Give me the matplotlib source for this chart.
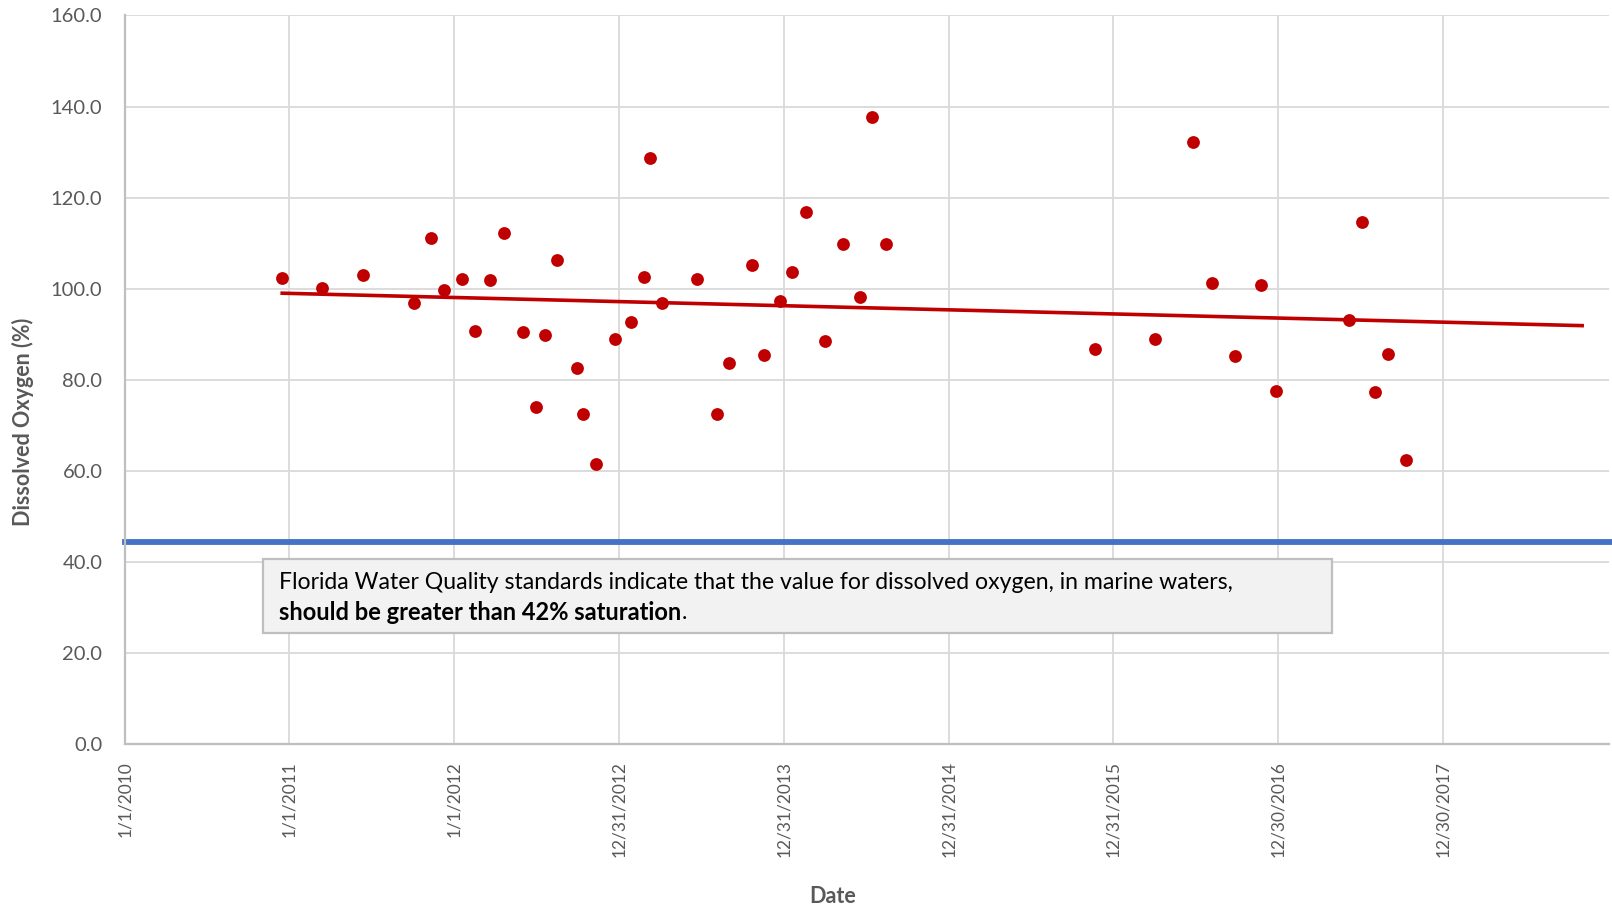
import numpy as np
import pandas as pd
import matplotlib
matplotlib.use("Agg")
import matplotlib.pyplot as plt
import matplotlib.dates as mdates

plt.rcParams['font.family'] = ['Lato', 'DejaVu Sans']

# days after 1/1/2010 for each sample, and dissolved oxygen (%)
day_offsets = [349, 438, 529, 641, 678, 707, 748, 776, 810, 840,
               883, 910, 931, 958, 1001, 1015, 1045, 1086, 1122, 1150,
               1163, 1191, 1268, 1312, 1339, 1389, 1417, 1451, 1478, 1508,
               1551, 1592, 1629, 1656, 1686, 2149, 2281, 2366, 2409, 2459,
               2516, 2550, 2712, 2740, 2769, 2797, 2838]
do_pct = [102.4, 100.1, 103.1, 96.9, 111.2, 99.7, 102.1, 90.8, 101.9, 112.3,
          90.6, 74.1, 89.9, 106.4, 82.5, 72.5, 61.5, 89.0, 92.7, 102.6,
          128.6, 96.9, 102.1, 72.5, 83.8, 105.3, 85.4, 97.4, 103.7, 116.8,
          88.6, 109.8, 98.1, 137.6, 109.8, 86.8, 89.0, 132.2, 101.2, 85.2,
          100.8, 77.5, 93.1, 114.6, 77.3, 85.6, 62.4]
standard_line = 44.5
tick_labels = ['1/1/2010', '1/1/2011', '1/1/2012', '12/31/2012', '12/31/2013',
               '12/31/2014', '12/31/2015', '12/30/2016', '12/30/2017']

start = pd.Timestamp('2010-01-01')
dates = [start + pd.Timedelta(days=d) for d in day_offsets]
xnum = mdates.date2num(dates)
x0 = mdates.date2num(start)

W, H = 1565.0, 884.0  # layout measured on a scaled view of the reference

fig = plt.figure(figsize=(16.12, 9.1), dpi=100)
ax = fig.add_axes([121/W, 1 - 723/H, 1441/W, 708/H])

ax.scatter(xnum, do_pct, s=85, color='#C00000', zorder=3, linewidths=0)

# linear trend, forecast ~390 days forward
k, b = np.polyfit(xnum, do_pct, 1)
tx = np.array([xnum[0], xnum[-1] + 390])
ax.plot(tx, k * tx + b, color='#C00000', lw=2.6, zorder=2)

ax.axhline(standard_line, color='#4472C4', lw=4.2, zorder=2, clip_on=False,
           xmin=0, xmax=1.003)

ax.set_ylim(0, 160)
ax.set_yticks(np.arange(0, 161, 20))
ax.set_yticklabels([f'{v:.1f}' for v in np.arange(0, 161, 20)])
ticks = [x0 + 365 * i for i in range(len(tick_labels))]
ax.set_xticks(ticks)
ax.set_xticklabels(tick_labels, rotation=90)
ax.set_xlim(x0, x0 + 1441 / 160 * 365)

ax.grid(True, color='#D9D9D9', lw=1.3)
ax.set_axisbelow(True)
for s in ['top', 'right']:
    ax.spines[s].set_visible(False)
for s in ['left', 'bottom']:
    ax.spines[s].set_color('#BFBFBF')
    ax.spines[s].set_linewidth(1.6)
ax.tick_params(axis='y', length=0, labelsize=14.5, colors='#595959', pad=16)
ax.tick_params(axis='x', length=0, labelsize=12.5, colors='#595959', pad=12)

ax.set_ylabel('Dissolved Oxygen (%)', fontsize=15.5, fontweight='bold',
              color='#595959')
ax.yaxis.set_label_coords(-0.0687, 0.442)
ax.set_xlabel('Date', fontsize=15.5, fontweight='bold', color='#595959')
ax.xaxis.set_label_coords(0.4768, -0.209)
ax.xaxis.label.set_va('center')
ax.yaxis.label.set_va('center')

# annotation box
box = plt.Rectangle((255/W, 1 - 615/H), (1293 - 255)/W, (615 - 543)/H,
                    transform=fig.transFigure, facecolor='#F2F2F2',
                    edgecolor='#BFBFBF', lw=1.6, zorder=5)
fig.patches.append(box)
fig.text(271/W, 1 - 566/H,
         'Florida Water Quality standards indicate that the value for dissolved oxygen, in marine waters,',
         fontsize=16.6, va='center', ha='left', color='black', zorder=6)
t2 = fig.text(271/W, 1 - 595/H, 'should be greater than 42% saturation',
              fontsize=17, fontweight='bold', va='center', ha='left', zorder=6)
fig.canvas.draw()
bb = t2.get_window_extent()
fig.text(bb.x1 / fig.bbox.width, 1 - 595/H, '.', fontsize=16.6,
         va='center', ha='left', zorder=6)

fig.savefig('out.png', dpi=100)
